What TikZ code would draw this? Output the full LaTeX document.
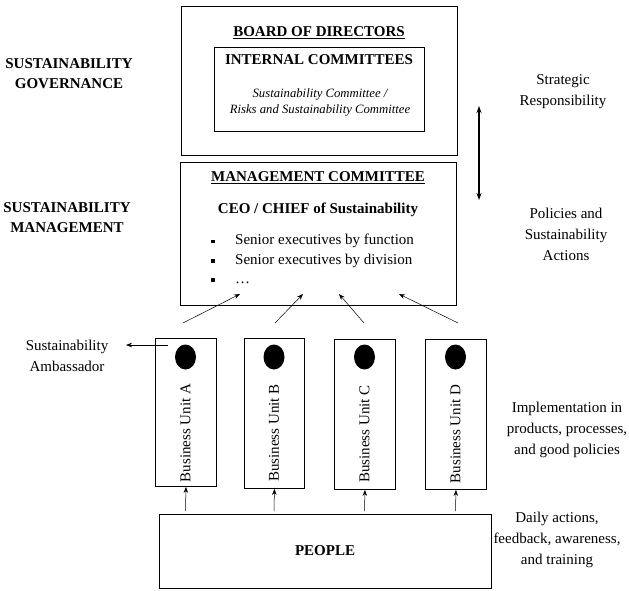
\documentclass[tikz,border=0pt]{standalone}
\usepackage{fontspec}
\setmainfont{Liberation Serif}
\usetikzlibrary{arrows.meta,shapes.geometric}
\begin{document}
\begin{tikzpicture}[x=1pt,y=-1pt]
\tikzset{
 box/.style={draw, line width=0.9pt, inner sep=0pt, anchor=north west},
 lbl/.style={font=\fontsize{15}{21}\selectfont, align=center, inner sep=0pt},
 hd/.style={font=\fontsize{15}{20}\selectfont\bfseries, align=center, inner sep=0pt},
 itl/.style={font=\fontsize{12.7}{16}\selectfont\itshape, align=center, inner sep=0pt},
 arr/.style={-{Stealth[length=6pt,width=4.5pt]}, line width=0.5pt},
 dot/.style={ellipse, fill=black, minimum width=21pt, minimum height=25pt, inner sep=0pt},
 bul/.style={font=\fontsize{15}{20}\selectfont, anchor=west, inner sep=0pt},
}
\useasboundingbox (0,0) rectangle (629,590);
% boxes
\node[box, minimum width=276pt, minimum height=149pt] (board) at (181,6) {};
\node[box, minimum width=210pt, minimum height=84pt] (inner) at (214,47) {};
\node[box, minimum width=276pt, minimum height=143pt] (mgmt) at (180,162) {};
\node[box, minimum width=61pt, minimum height=148pt] (ua) at (155,338) {};
\node[box, minimum width=60pt, minimum height=150pt] (ub) at (244,338) {};
\node[box, minimum width=61pt, minimum height=150pt] (uc) at (334,339) {};
\node[box, minimum width=61pt, minimum height=150pt] (ud) at (425,339) {};
\node[box, minimum width=332pt, minimum height=74pt] (people) at (159,514) {};
% board texts
\node[hd] (bodt) at (319,33) {\underline{BOARD OF DIRECTORS}};
\node[hd] (ict) at (319,60) {INTERNAL COMMITTEES};
\node[itl] (sct) at (320,102) {Sustainability Committee /\\ Risks and Sustainability Committee};
% management texts
\node[hd] (mct) at (318,178) {\underline{MANAGEMENT COMMITTEE}};
\node[hd] (ceo) at (318,210) {CEO / CHIEF of Sustainability};
\node[bul] (b1) at (211,241) {\makebox[24pt][l]{\rule[1.5pt]{3.6pt}{3.6pt}}Senior executives by function};
\node[bul] (b2) at (211,261) {\makebox[24pt][l]{\rule[1.5pt]{3.6pt}{3.6pt}}Senior executives by division};
\node[bul] (b3) at (211,281) {\makebox[24pt][l]{\rule[1.5pt]{3.6pt}{3.6pt}}\dots};
% left labels
\node[hd] (gov) at (69,74) {SUSTAINABILITY\\GOVERNANCE};
\node[hd] (man) at (67,218) {SUSTAINABILITY\\MANAGEMENT};
% right labels
\node[lbl] (strat) at (563,92) {Strategic\\Responsibility};
\node[lbl] (pol) at (566,234) {Policies and\\Sustainability\\Actions};
\node[lbl] (impl) at (567,430) {Implementation in\\products, processes,\\and good policies};
\node[lbl] (daily) at (557,540) {Daily actions,\\feedback, awareness,\\and training};
\node[lbl] (amb) at (67,356) {Sustainability\\Ambassador};
% units
\node[dot] (da) at (185.5,357) {};
\node[dot] (db) at (274,357) {};
\node[dot] (dc) at (364.5,357) {};
\node[dot] (dd) at (455.5,357) {};
\node[lbl, rotate=90] (ta) at (185.5,433) {Business Unit A};
\node[lbl, rotate=90] (tb) at (274,433) {Business Unit B};
\node[lbl, rotate=90] (tc) at (364.5,434) {Business Unit C};
\node[lbl, rotate=90] (td) at (455.5,434) {Business Unit D};
\node[font=\fontsize{15}{20}\selectfont\bfseries, inner sep=0pt] (pt) at (325,551) {PEOPLE};
% connector coordinates
\coordinate (s1) at (183,323); \coordinate (e1) at (240,294);
\coordinate (s2) at (275,323); \coordinate (e2) at (303,294);
\coordinate (s3) at (364,323); \coordinate (e3) at (339,294);
\coordinate (s4) at (458,323); \coordinate (e4) at (399,294);
\coordinate (p1) at (185.5,511); \coordinate (p2) at (274,511);
\coordinate (p3) at (364.5,511); \coordinate (p4) at (455.5,511);
\coordinate (as) at (168,345); \coordinate (ae) at (126,345);
\coordinate (vt) at (479,106); \coordinate (vb) at (479,200);
% connectors
\draw[arr] (s1) -- (e1);
\draw[arr] (s2) -- (e2);
\draw[arr] (s3) -- (e3);
\draw[arr] (s4) -- (e4);
\draw[arr] (p1) -- (ua.south);
\draw[arr] (p2) -- (ub.south);
\draw[arr] (p3) -- (uc.south);
\draw[arr] (p4) -- (ud.south);
\draw[arr] (as) -- (ae);
\draw[{Stealth[length=7pt,width=5pt]}-{Stealth[length=7pt,width=5pt]}, line width=1.3pt] (vt) -- (vb);
\end{tikzpicture}
\end{document}
